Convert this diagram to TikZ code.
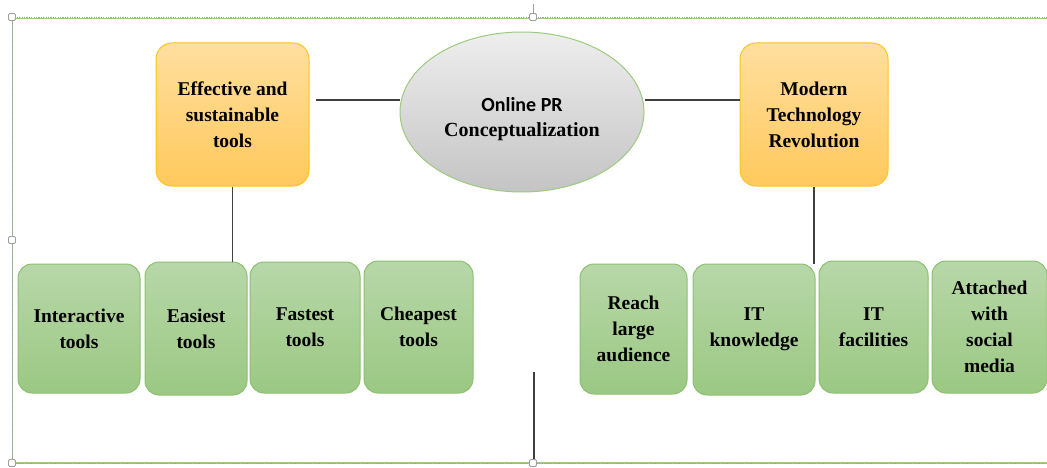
\documentclass[tikz,border=0pt]{standalone}
\usepackage{fontspec}
\setmainfont{Liberation Serif}
\newfontfamily\carlitofont{Carlito}
\usetikzlibrary{shapes.geometric,calc}
\definecolor{gtop}{HTML}{B7D7A8}
\definecolor{gbot}{HTML}{9BC883}
\definecolor{gbord}{HTML}{8DC06F}
\definecolor{otop}{HTML}{FFDF9F}
\definecolor{obot}{HTML}{FFC95C}
\definecolor{obord}{HTML}{FFC31E}
\definecolor{etop}{HTML}{EEEEEE}
\definecolor{ebot}{HTML}{C4C4C4}
\definecolor{lnk}{HTML}{3F3F3F}
\definecolor{frameg}{HTML}{9CCB7F}
\definecolor{selg}{HTML}{A0A0A0}
\tikzset{
  gbox/.style={draw=gbord, line width=1pt, rounded corners=14pt, top color=gtop, bottom color=gbot, inner sep=0pt, align=center, font=\fontsize{19.5}{26}\selectfont\bfseries},
  obox/.style={draw=obord, line width=1pt, rounded corners=16pt, top color=otop, bottom color=obot, inner sep=0pt, align=center, font=\fontsize{19.5}{26}\selectfont\bfseries},
  link/.style={draw=lnk, line width=1.1pt},
  handle/.style={draw=selg, fill=white, line width=0.9pt, minimum size=7pt, inner sep=0pt, rectangle, rounded corners=1.2pt}
}
\begin{document}
\begin{tikzpicture}[x=1pt,y=-1pt]
\useasboundingbox (0,0) rectangle (1047,468);
% frame
\draw[frameg, line width=1.2pt] (1050,18.5) -- (12.5,18.5) -- (12.5,463) -- (1050,463);
\draw[selg, line width=0.8pt, dash pattern=on 1.2pt off 1.2pt] (1050,17) -- (12,17) -- (12,463) -- (1050,463);
\draw[selg, line width=0.8pt] (533,4) -- (533,14);
% central ellipse
\node[ellipse, draw=frameg, line width=1pt, top color=etop, bottom color=ebot, minimum width=244pt, minimum height=160pt, inner sep=0pt] (ell) at (522,112) {};
\node[align=center, inner sep=0pt, font=\fontsize{20}{25}\selectfont\bfseries] (ellt) at (522,119)
  {{\carlitofont Online PR}\\Conceptualization};
% orange boxes
\node[obox, minimum width=153pt, minimum height=143pt] (eff) at (232.5,114.5) {Effective and\\sustainable\\tools};
\node[obox, minimum width=148pt, minimum height=143pt] (mod) at (814,114.5) {Modern\\Technology\\Revolution};
% green boxes left
\node[gbox, minimum width=122pt, minimum height=129pt] (inter) at (79,328.5) {Interactive\\tools};
\node[gbox, minimum width=102pt, minimum height=133pt] (easy) at (196,328.5) {Easiest\\tools};
\node[gbox, minimum width=110pt, minimum height=131pt] (fast) at (305,327.5) {Fastest\\tools};
\node[gbox, minimum width=109pt, minimum height=132pt] (cheap) at (418.5,327) {Cheapest\\tools};
% green boxes right
\node[gbox, minimum width=107pt, minimum height=130pt] (reach) at (633.5,329) {Reach\\large\\audience};
\node[gbox, minimum width=122pt, minimum height=131pt] (itk) at (754,329.5) {IT\\knowledge};
\node[gbox, minimum width=109pt, minimum height=132pt] (itf) at (873.5,327) {IT\\facilities};
\node[gbox, minimum width=115pt, minimum height=132pt] (att) at (989.5,327) {Attached\\with\\social\\media};
% connectors
\coordinate (l1) at (316,100);
\coordinate (b1) at (534,372);
\coordinate (b2) at (534,463);
\draw[link] (l1) -- (l1 -| ell.west);
\draw[link] (ell.east |- l1) -- (mod.west |- l1);
\draw[link] (eff.south) -- (eff.south |- easy.north);
\draw[link] (mod.south) -- (mod.south |- itk.north);
\draw[link] (b1) -- (b2);
% handles
\node[handle] (h1) at (12,17) {};
\node[handle] (h2) at (533,17) {};
\node[handle] (h3) at (12,240) {};
\node[handle] (h4) at (12,463) {};
\node[handle] (h5) at (533,463) {};
\end{tikzpicture}
\end{document}
